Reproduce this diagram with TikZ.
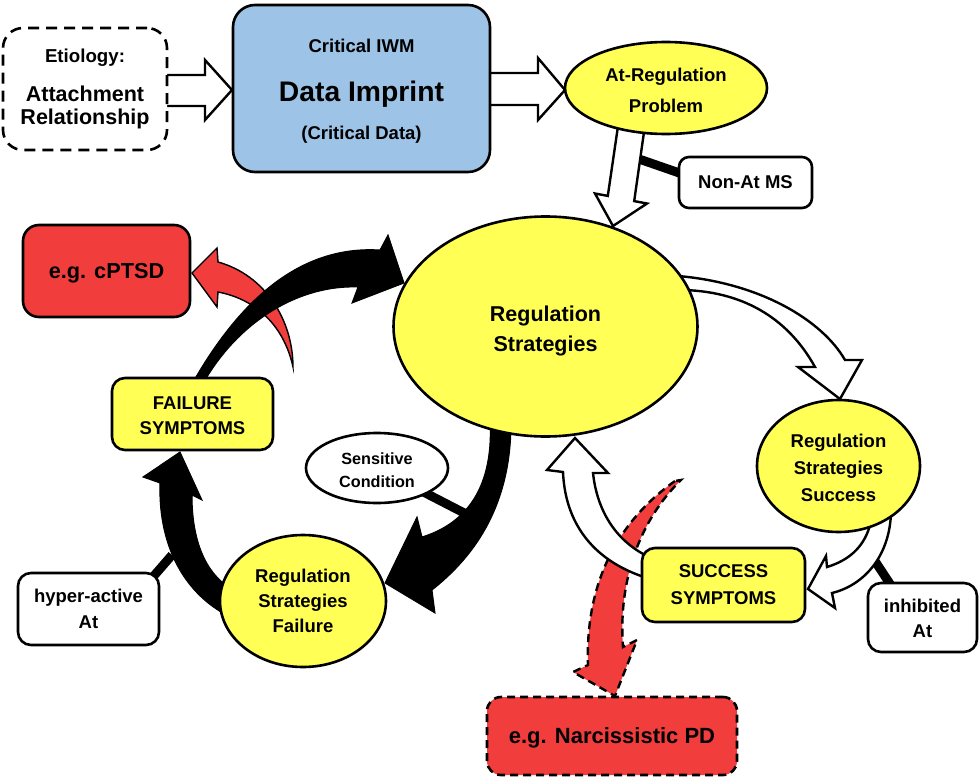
\documentclass[tikz,border=0pt]{standalone}
\usepackage{fontspec}
\setmainfont{Liberation Sans}
\usetikzlibrary{shapes.geometric,backgrounds}
\definecolor{yel}{HTML}{FFFF55}
\definecolor{blu}{HTML}{9DC3E6}
\definecolor{rd}{HTML}{F23D3D}
\newcommand{\sth}[1]{\rule{0pt}{#1pt}}
\begin{document}
\begin{tikzpicture}[x=1pt,y=-1pt,
  bx/.style={draw, line width=2.6pt, rounded corners=14pt, inner sep=0pt, align=center},
  el/.style={ellipse, draw, line width=2.6pt, inner sep=0pt, align=center},
  fnt/.style={font=\bfseries\fontsize{18.5}{#1}\selectfont},
  harrow/.style={fill=white, draw=black, line width=2.4pt, line join=miter},
  blk/.style={fill=black, draw=black, line width=1pt, line join=miter},
  redarr/.style={fill=rd, draw=black, line width=1.4pt, line join=miter},
  tie/.style={line width=9pt, draw=black}
]
\useasboundingbox (0,0) rectangle (980,784);

% ---------- nodes ----------
\node[bx, dash pattern=on 11pt off 7pt, rounded corners=20pt, fill=white,
      minimum width=164pt, minimum height=122pt,
      font=\bfseries\fontsize{21.5}{23.3}\selectfont] (etio) at (85,89)
  {{\fontsize{18.7}{23.3}\selectfont Etiology:}\\[15.2pt]Attachment\\Relationship};
\node[bx, fill=blu, rounded corners=22pt, minimum width=257pt, minimum height=167pt, fnt=38] (imp) at (361.5,88.5)
  {\sth{19.8}Critical IWM\\[11pt]{\fontsize{28.3}{38}\selectfont Data Imprint}\\(Critical Data)};
\node[el, fill=yel, minimum width=202pt, minimum height=92pt, fnt=31.3] (atreg) at (666,88)
  {\sth{18.7}At-Regulation\\Problem};
\node[bx, fill=white, rounded corners=10pt, minimum width=133pt, minimum height=51pt, fnt=22] (nonat) at (745.5,182.5)
  {Non-At MS};
\node[el, fill=yel, minimum width=304pt, minimum height=220pt,
      font=\bfseries\fontsize{21.5}{30}\selectfont] (reg) at (545.5,326.5)
  {\sth{25.5}Regulation\\Strategies};
\node[el, fill=yel, minimum width=163pt, minimum height=132pt, fnt=27] (succ) at (838.5,466)
  {\sth{18}Regulation\\Strategies\\Success};
\node[bx, fill=yel, rounded corners=13pt, minimum width=163pt, minimum height=74pt, fnt=27] (ssym) at (723.5,585)
  {SUCCESS\\SYMPTOMS};
\node[bx, fill=white, rounded corners=13pt, minimum width=109pt, minimum height=69pt, fnt=25] (inhib) at (922.5,617.5)
  {\sth{16}inhibited\\At};
\node[bx, fill=rd, dash pattern=on 8pt off 5pt, rounded corners=14pt, minimum width=250pt, minimum height=78pt,
      font=\bfseries\fontsize{22}{26}\selectfont, text depth=0pt] (narc) at (612,736)
  {e.g. Narcissistic PD};
\node[el, fill=white, minimum width=142pt, minimum height=70pt,
      font=\bfseries\fontsize{16.2}{23}\selectfont] (sens) at (377,468)
  {\sth{17}Sensitive\\Condition};
\node[el, fill=yel, minimum width=166pt, minimum height=132pt, fnt=25] (fail) at (303,601)
  {Regulation\\Strategies\\Failure};
\node[bx, fill=white, rounded corners=13pt, minimum width=141pt, minimum height=72pt, fnt=26] (hyper) at (88.5,609)
  {hyper-active\\At};
\node[bx, fill=yel, rounded corners=13pt, minimum width=161pt, minimum height=72pt, fnt=25] (fsym) at (192.5,414)
  {\sth{17}FAILURE\\SYMPTOMS};
\node[bx, fill=rd, rounded corners=16pt, minimum width=167pt, minimum height=92pt,
      font=\bfseries\fontsize{21.7}{26}\selectfont, text depth=0pt] (cptsd) at (106.5,271)
  {e.g. cPTSD};

% ---------- connectors and arrows (behind nodes) ----------
\begin{pgfonlayer}{background}
  % ties
  \coordinate (tA) at (639,159);
  \draw[tie] (tA) -- ([xshift=6pt,yshift=8pt]nonat.west);
  \coordinate (tB) at (470,516);
  \draw[tie] (tB) -- (sens.center);
  \coordinate (tC) at (172,555);
  \draw[tie] (tC) -- ([shift={(-8pt,-6pt)}]hyper.north east);
  \coordinate (tD) at (871,555);
  \draw[tie] (tD) -- ([xshift=-30pt,yshift=-6pt]inhib.north);

  % red arrow to cPTSD
  \filldraw[redarr] (293,367) .. controls (293,320) and (265,275) .. (218,262)
     -- (217,248) -- (192,273) -- (217,307) -- (218,292)
     .. controls (260,300) and (285,330) .. (293,367) -- cycle;

  % black arrow FAILURE SYMPTOMS -> Regulation Strategies
  \filldraw[blk] (193,382) .. controls (240,300) and (300,245) .. (380,250)
     -- (388,235) -- (404,283) -- (352,303) -- (358,287)
     .. controls (300,285) and (240,320) .. (204,382) -- cycle;

  % black arrow Regulation Strategies -> Failure
  \filldraw[blk] (490,420) .. controls (494,495) and (460,525) .. (422,537)
     -- (417,517) -- (385,583) -- (435,613) -- (432,590)
     .. controls (470,560) and (512,510) .. (511,420) -- cycle;

  % black arrow Failure -> FAILURE SYMPTOMS
  \filldraw[blk] (230,617) .. controls (180,592) and (158,540) .. (160,483)
     -- (143,477) -- (180,452) -- (202,500) -- (192,495)
     .. controls (192,540) and (205,572) .. (230,588) -- cycle;

  % red dashed arrow to Narcissistic PD
  \filldraw[redarr, line width=2.4pt, dash pattern=on 8pt off 5pt]
     (675,481) .. controls (620,520) and (585,580) .. (588,665)
     -- (573,672) -- (615,696) -- (637,640) -- (623,647)
     .. controls (618,580) and (640,520) .. (681,480) -- cycle;

  % hollow arrows
  \filldraw[harrow] (160,75) -- (205,75) -- (205,60) -- (232,90) -- (205,120) -- (205,106) -- (160,106);
  \filldraw[harrow] (486,73) -- (538,73) -- (538,58) -- (565,90) -- (538,120) -- (538,105) -- (486,105);
  \filldraw[harrow] (618.6,122) -- (607.8,195.9) -- (595,193.5) -- (613,226) -- (647,203.5) -- (634.2,201.1) -- (645,125);
  \filldraw[harrow] (678,276) .. controls (760,283) and (822,320) .. (845,360)
     -- (862,360) -- (840,399) -- (798,367) -- (815,367)
     .. controls (790,322) and (748,292) .. (684,290);
  \filldraw[harrow] (872,515) .. controls (868,545) and (850,560) .. (827,567)
     -- (826,556) -- (808,589) -- (835,608) -- (832,593)
     .. controls (865,585) and (890,555) .. (891,512);
  \filldraw[harrow] (647,578) .. controls (590,560) and (565,520) .. (563,472)
     -- (547,470) -- (575,438) -- (608,473) -- (593,473)
     .. controls (597,510) and (615,540) .. (647,556);
\end{pgfonlayer}
\end{tikzpicture}
\end{document}
